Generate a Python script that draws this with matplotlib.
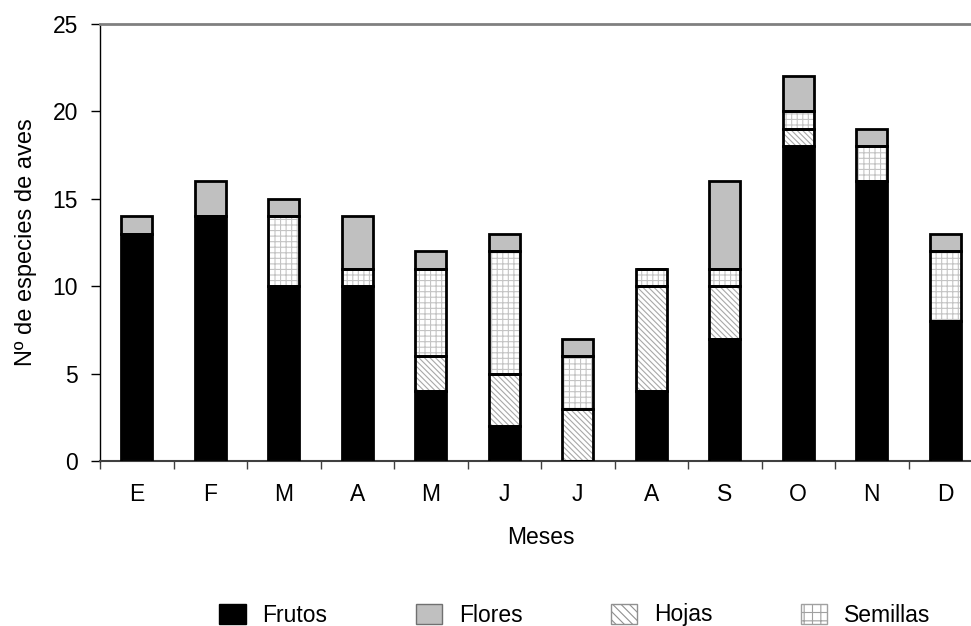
import matplotlib
matplotlib.use("Agg")
import matplotlib.pyplot as plt
from matplotlib.patches import Patch
import numpy as np

plt.rcParams['font.family'] = ['Liberation Sans', 'DejaVu Sans']
plt.rcParams['hatch.linewidth'] = 0.8

months = ["E", "F", "M", "A", "M", "J", "J", "A", "S", "O", "N", "D"]
frutos   = [13, 14, 10, 10, 4, 2, 0, 4, 7, 18, 16, 8]
hojas    = [0, 0, 0, 0, 2, 3, 3, 6, 3, 1, 0, 0]
semillas = [0, 0, 4, 1, 5, 7, 3, 1, 1, 1, 2, 4]
flores   = [1, 2, 1, 3, 1, 1, 1, 0, 5, 2, 1, 1]

FS = 16.5
fig = plt.figure(figsize=(9.71, 6.26), dpi=100)
ax = fig.add_axes([100/971, 1-461/626, 882/971, 437/626])

x = np.arange(len(months))
w = 0.42
frutos = np.array(frutos); hojas = np.array(hojas)
semillas = np.array(semillas); flores = np.array(flores)

segments = [
    (frutos, np.zeros(12), dict(color='black')),
    (hojas, frutos, dict(facecolor='white', hatch='\\\\\\\\\\\\', edgecolor='#a8a8a8')),
    (semillas, frutos + hojas, dict(facecolor='white', hatch='+++', edgecolor='#c4c4c4')),
    (flores, frutos + hojas + semillas, dict(color='#c0c0c0')),
]
for vals, bottom, style in segments:
    ax.bar(x, vals, w, bottom=bottom, linewidth=0, zorder=2, **style)
    ax.bar(x, vals, w, bottom=bottom, facecolor='none', edgecolor='black',
           linewidth=2, zorder=3)

ax.set_xlim(-0.5, 11.5)
ax.set_ylim(0, 25)
ax.set_yticks([0, 5, 10, 15, 20, 25])
ax.set_xticks(x)
ax.set_xticklabels(months)
ax.set_xticks(np.arange(0, 12) - 0.5, minor=True)
ax.tick_params(axis='x', which='major', length=0, pad=16, labelsize=FS)
ax.tick_params(axis='x', which='minor', length=6, width=1, color='#404040', direction='out')
ax.tick_params(axis='y', length=6.5, width=1, labelsize=FS, pad=9.5)
ax.spines['right'].set_visible(False)
ax.spines['top'].set_color('#808080')
ax.spines['top'].set_linewidth(2)
ax.spines['left'].set_color('black')
ax.spines['left'].set_linewidth(1)
ax.spines['bottom'].set_color('#404040')
ax.spines['bottom'].set_linewidth(1.5)
ax.set_ylabel("Nº de especies de aves", fontsize=17, labelpad=11)
ax.set_xlabel("Meses", fontsize=FS, labelpad=14)

handles = [
    Patch(facecolor='black', edgecolor='black', label='Frutos'),
    Patch(facecolor='#c0c0c0', edgecolor='#707070', label='Flores'),
    Patch(facecolor='white', hatch='\\\\\\\\', edgecolor='#909090', label='Hojas'),
    Patch(facecolor='white', hatch='++', edgecolor='#a0a0a0', label='Semillas'),
]
fig.legend(handles=handles, ncol=4, loc='center', bbox_to_anchor=(575/971, 1-615/626),
           frameon=False, fontsize=FS, handlelength=1.15, handleheight=0.95,
           columnspacing=3.85, handletextpad=0.74)

fig.savefig("out.png", dpi=100)
